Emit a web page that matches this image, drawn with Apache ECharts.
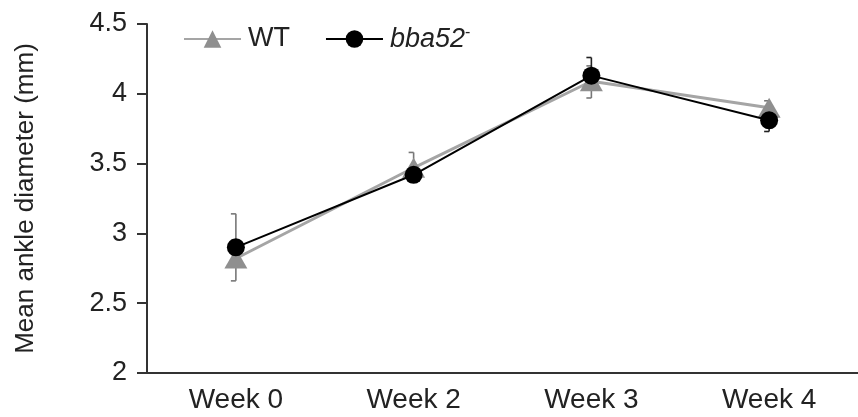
<!DOCTYPE html>
<html><head><meta charset="utf-8">
<script src="https://cdn.jsdelivr.net/npm/echarts@6/dist/echarts.min.js"></script>
<style>html,body{margin:0;padding:0;background:#fff}#c{width:858px;height:417px}</style>
</head><body><div id="c"></div>
<script>
var categories = ['Week 0', 'Week 2', 'Week 3', 'Week 4'];
var wtMean = [2.82, 3.47, 4.09, 3.90];
var wtLow  = [2.66, 3.40, 3.97, 3.86];
var wtHigh = [3.14, 3.58, 4.20, 3.95];
var bbaMean = [2.90, 3.42, 4.13, 3.81];
var bbaLow  = [2.85, 3.37, 4.04, 3.73];
var bbaHigh = [2.95, 3.47, 4.26, 3.88];
var yTicks = [2, 2.5, 3, 3.5, 4, 4.5];

function errData(low, high) {
  return low.map(function (l, i) { return [i, l, high[i]]; });
}
function makeRender(color) {
  return function (params, api) {
    var x = api.value(0);
    var lo = api.coord([x, api.value(1)]);
    var hi = api.coord([x, api.value(2)]);
    var cw = 5;
    var st = { stroke: color, lineWidth: 1.6, fill: null };
    return { type: 'group', children: [
      { type: 'line', shape: { x1: lo[0], y1: lo[1], x2: hi[0], y2: hi[1] }, style: st },
      { type: 'line', shape: { x1: hi[0], y1: hi[1], x2: hi[0] - cw, y2: hi[1] }, style: st },
      { type: 'line', shape: { x1: lo[0], y1: lo[1], x2: lo[0] - cw, y2: lo[1] }, style: st }
    ]};
  };
}
var FONT = 'Liberation Sans, Arial, sans-serif';
var chart = echarts.init(document.getElementById('c'));
chart.setOption({
  animation: false,
  backgroundColor: '#fff',
  grid: { left: 147, right: -9, top: 24, bottom: 44 },
  legend: {
    left: 178, top: 20, itemGap: 35, itemWidth: 57, itemHeight: 22,
    textStyle: { fontFamily: FONT, fontSize: 27, color: '#222', padding: [0, 0, 0, 2],
      rich: { i: { fontStyle: 'italic', fontSize: 27, color: '#222', fontFamily: FONT },
              s: { fontSize: 16, color: '#222', verticalAlign: 'top', fontFamily: FONT, padding: [0, 0, 12, 0] } } },
    formatter: function (n) { return n === 'bba52' ? '{i|bba52}{s|-}' : n; },
    data: ['WT', 'bba52']
  },
  xAxis: {
    type: 'category', data: categories, boundaryGap: true,
    axisLine: { lineStyle: { color: '#333', width: 2 } },
    axisTick: { show: false },
    axisLabel: { fontFamily: FONT, fontSize: 28, color: '#222', margin: 13 },
    splitLine: { show: false }
  },
  yAxis: {
    type: 'value', min: yTicks[0], max: yTicks[yTicks.length - 1], interval: 0.5,
    name: 'Mean ankle diameter (mm)', nameLocation: 'middle', nameGap: 108,
    nameTextStyle: { fontFamily: FONT, fontSize: 26, color: '#222' },
    axisLine: { show: true, lineStyle: { color: '#333', width: 2 } },
    axisTick: { show: true, length: 10, lineStyle: { color: '#333', width: 2 } },
    axisLabel: { fontFamily: FONT, fontSize: 27, color: '#222', margin: 20 },
    splitLine: { show: false }
  },
  series: [
    { name: 'WT err', type: 'custom', renderItem: makeRender('#777'), data: errData(wtLow, wtHigh), z: 1, silent: true },
    { name: 'bba52 err', type: 'custom', renderItem: makeRender('#222'), data: errData(bbaLow, bbaHigh), z: 1, silent: true },
    { name: 'WT', type: 'line', data: wtMean, symbol: 'triangle', symbolSize: [23, 20],
      itemStyle: { color: '#8f8f8f' }, lineStyle: { color: '#a5a5a5', width: 3 }, z: 2 },
    { name: 'bba52', type: 'line', data: bbaMean, symbol: 'circle', symbolSize: 18,
      itemStyle: { color: '#000' }, lineStyle: { color: '#000', width: 2 }, z: 3 }
  ]
});
</script></body></html>
